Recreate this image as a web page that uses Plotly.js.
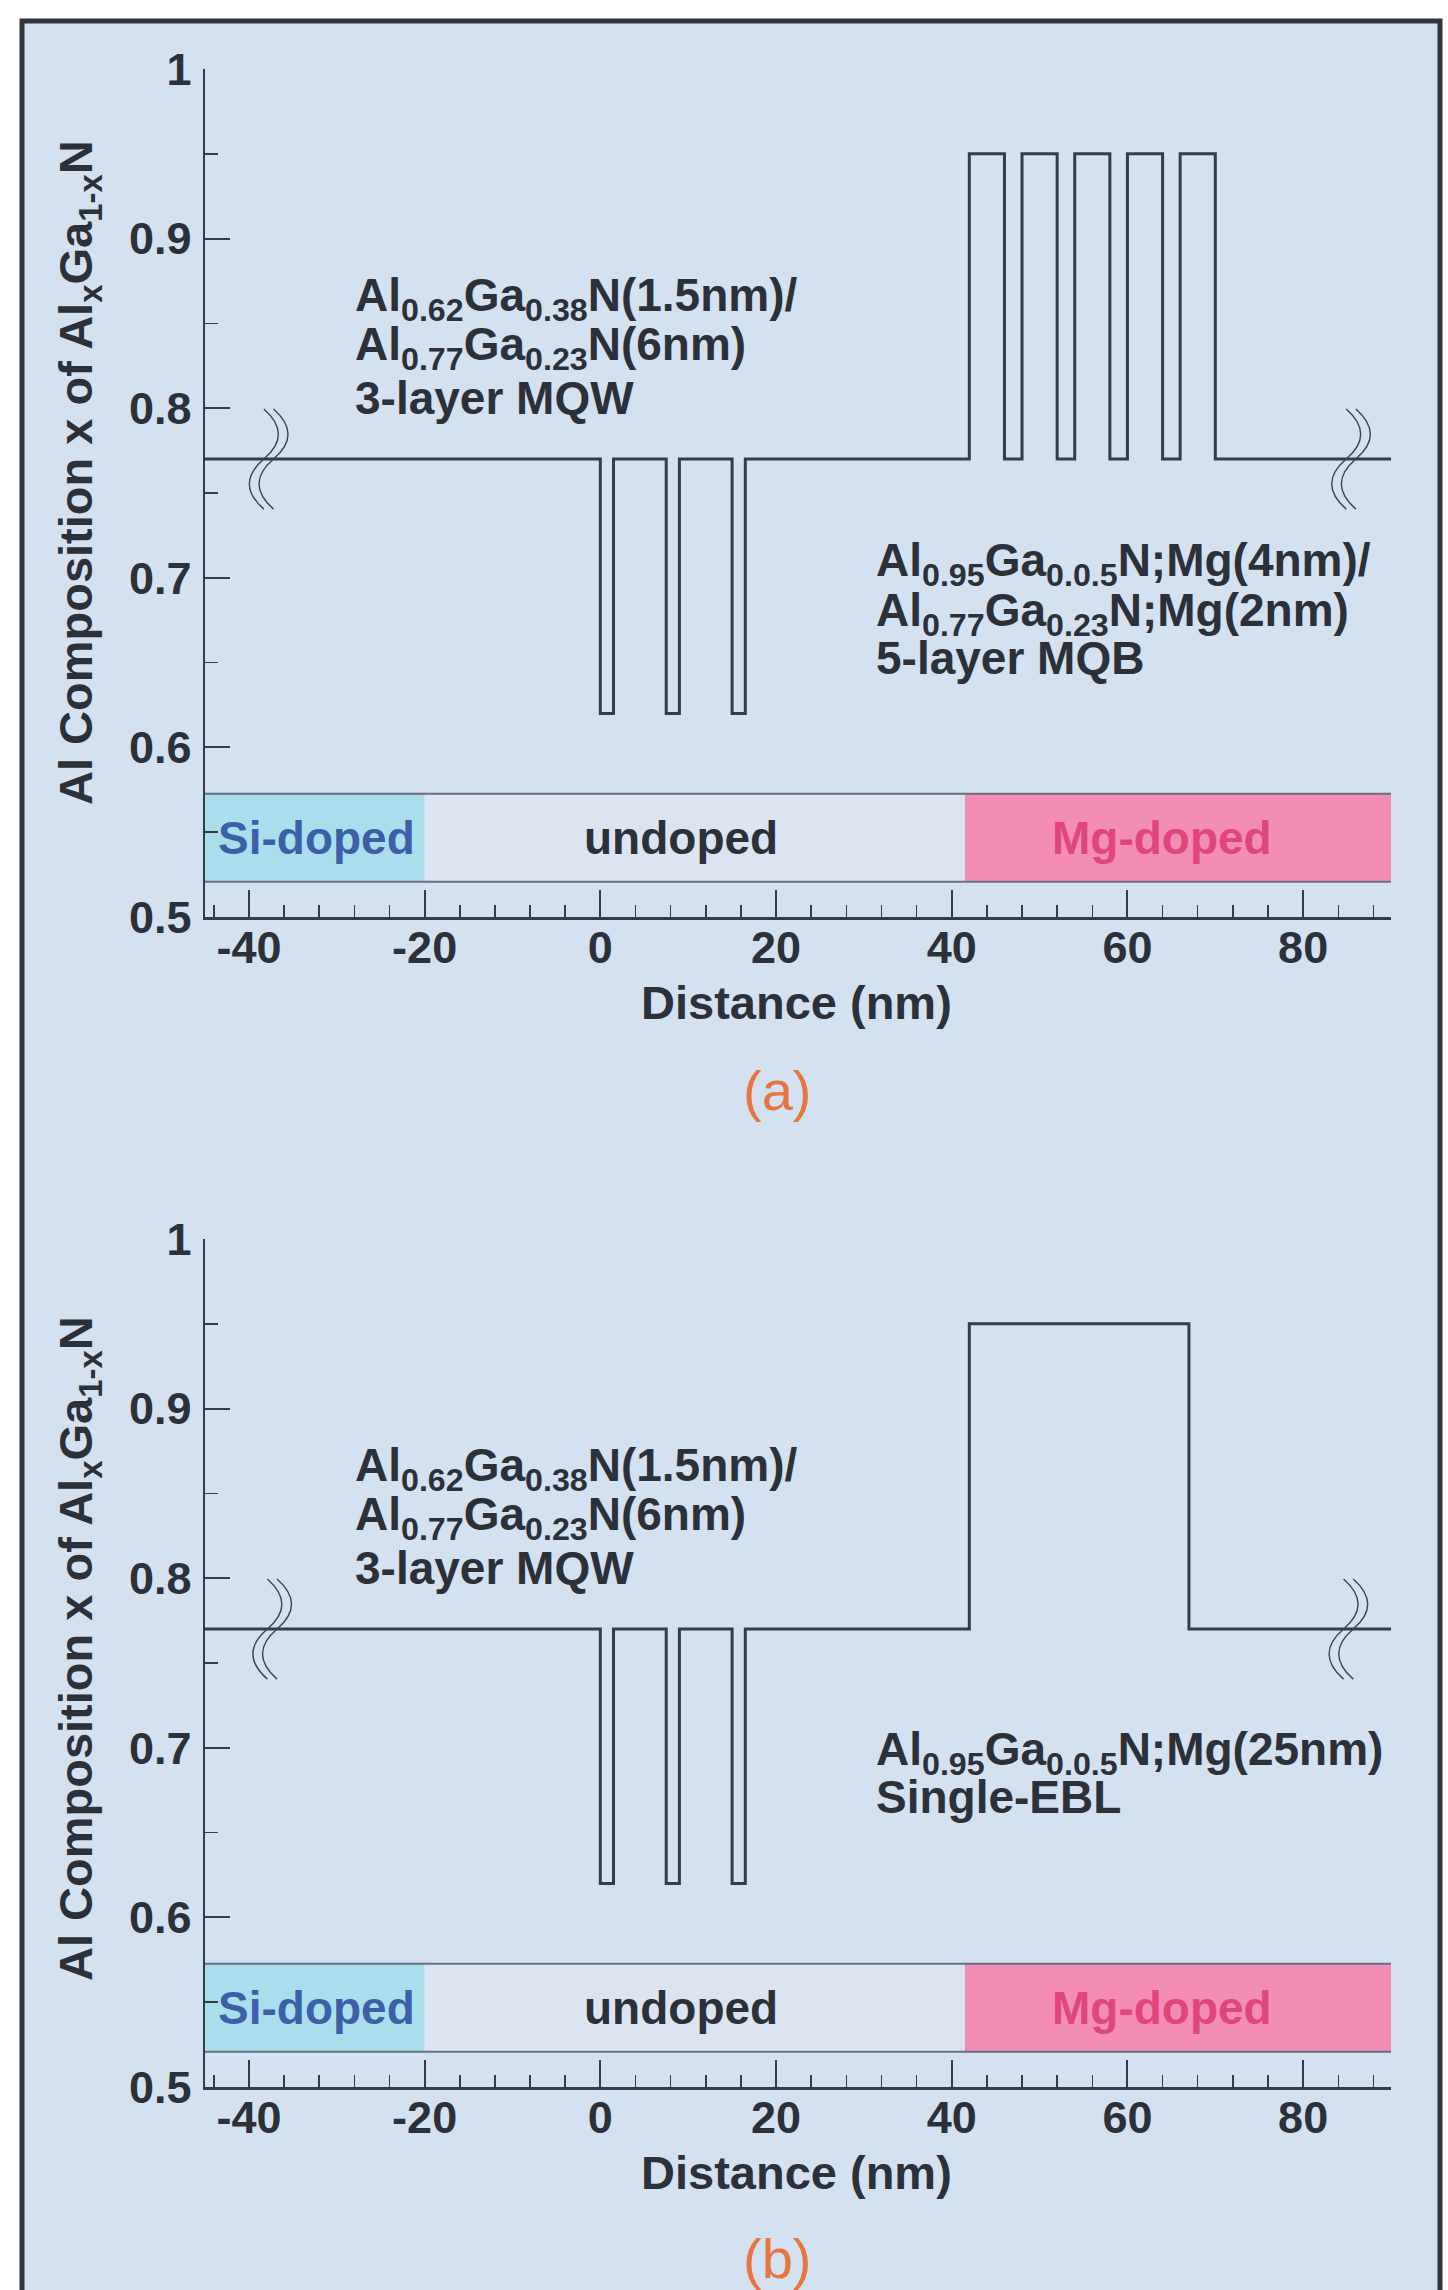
<!DOCTYPE html>
<html>
<head>
<meta charset="utf-8">
<script src="https://cdn.plot.ly/plotly-3.0.1.min.js"></script>
<style>
html,body{margin:0;padding:0;background:#ffffff;}
#chart{width:1448px;height:2290px;}
</style>
</head>
<body>
<div id="chart"></div>
<script>
// ---------------- data ----------------
// Panel (a): 3-layer MQW + 5-layer MQB  (layer start positions, nm, and Al composition)
const layerEdgesA = [-45, 0, 1.5, 7.5, 9, 15, 16.5, 42, 46, 48, 52, 54, 58, 60, 64, 66, 70, 90];
const compA       = [0.77, 0.62, 0.77, 0.62, 0.77, 0.62, 0.77, 0.95, 0.77, 0.95, 0.77, 0.95, 0.77, 0.95, 0.77, 0.95, 0.77, 0.77];
// Panel (b): 3-layer MQW + single EBL
const layerEdgesB = [-45, 0, 1.5, 7.5, 9, 15, 16.5, 42, 67, 90];
const compB       = [0.77, 0.62, 0.77, 0.62, 0.77, 0.62, 0.77, 0.95, 0.77, 0.77];

// doping regions (nm)
const regionStart = [-45, -20, 41.5];
const regionEnd   = [-20, 41.5, 90];
const regionNames = ['Si-doped', 'undoped', 'Mg-doped'];

// axis ticks
const xTickVals = [-40, -20, 0, 20, 40, 60, 80];
const xTickText = ['-40', '-20', '0', '20', '40', '60', '80'];
const yTickVals = [0.5, 0.6, 0.7, 0.8, 0.9, 1];
const yTickText = ['0.5', '0.6', '0.7', '0.8', '0.9', '1'];

// axis break marks (nm)
const breakXA = [-38.3, 84.9];
const breakXB = [-37.9, 84.6];

// texts
const mqwLines = ['Al<sub>0.62</sub>Ga<sub>0.38</sub>N(1.5nm)/', 'Al<sub>0.77</sub>Ga<sub>0.23</sub>N(6nm)', '3-layer MQW'];
const mqbLines = ['Al<sub>0.95</sub>Ga<sub>0.0.5</sub>N;Mg(4nm)/', 'Al<sub>0.77</sub>Ga<sub>0.23</sub>N;Mg(2nm)', '5-layer MQB'];
const eblLines = ['Al<sub>0.95</sub>Ga<sub>0.0.5</sub>N;Mg(25nm)', 'Single-EBL'];
const xTitle = 'Distance (nm)';
const yTitle = 'Al Composition x of Al<sub>x</sub>Ga<sub>1-x</sub>N';
const panelLabels = ['(a)', '(b)'];

// ---------------- style ----------------
const FONT = 'Liberation Sans, Arial, Helvetica, sans-serif';
const DARK = '#2c3139';
const LINE = '#343c48';
const regionColors = ['#a9dfec', '#dce4f2', '#f48db6'];
const regionTextColors = ['#3d5fa8', '#2c3139', '#e0457e'];
const BAR_Y0 = 0.5208, BAR_Y1 = 0.5727;

const W = 1448, H = 2290;
const xDom = [205 / W, 1391 / W];
const yDomA = [1 - 917 / H, 1 - 69 / H];
const yDomB = [1 - 2087 / H, 1 - 1239 / H];

function xAxis(anchor) {
  return {
    domain: xDom, anchor: anchor, range: [-45, 90], fixedrange: true,
    showgrid: false, zeroline: false, showline: true, linecolor: LINE, linewidth: 2.5,
    ticks: 'inside', ticklen: 27, tickwidth: 2, tickcolor: LINE,
    tickvals: xTickVals, ticktext: xTickText,
    tickfont: {family: FONT, size: 45, color: DARK, weight: 'bold'},
    ticklabelstandoff: -11,
    minor: {tick0: 0, dtick: 4, ticks: 'inside', ticklen: 12, tickwidth: 1.5, tickcolor: LINE, showgrid: false}
  };
}
function yAxis(anchor, dom) {
  return {
    domain: dom, anchor: anchor, range: [0.5, 1], fixedrange: true,
    showgrid: false, zeroline: false, showline: true, linecolor: LINE, linewidth: 2.5,
    ticks: 'inside', ticklen: 25, tickwidth: 2, tickcolor: LINE,
    tickvals: yTickVals, ticktext: yTickText,
    tickfont: {family: FONT, size: 45, color: DARK, weight: 'bold'},
    ticklabelstandoff: 2,
    minor: {tick0: 0.5, dtick: 0.05, ticks: 'inside', ticklen: 13, tickwidth: 1.5, tickcolor: LINE, showgrid: false}
  };
}

const traces = [
  {x: layerEdgesA, y: compA, xaxis: 'x', yaxis: 'y', type: 'scatter', mode: 'lines',
   line: {shape: 'hv', color: LINE, width: 3}, hoverinfo: 'skip', showlegend: false},
  {x: layerEdgesB, y: compB, xaxis: 'x2', yaxis: 'y2', type: 'scatter', mode: 'lines',
   line: {shape: 'hv', color: LINE, width: 3}, hoverinfo: 'skip', showlegend: false}
];

const shapes = [];
// background frame
shapes.push({type: 'rect', xref: 'paper', yref: 'paper', x0: 22 / W, x1: 1440 / W, y0: -0.02, y1: 1 - 21 / H,
  fillcolor: '#d4e1f1', line: {color: '#30353d', width: 5}, layer: 'below'});

function breakPath(xc, y0, h, k) {
  return `M ${xc},${y0 + h} C ${xc + k},${y0 + h * 0.66} ${xc + k},${y0 + h * 0.33} ${xc},${y0} ` +
         `C ${xc - k},${y0 - h * 0.33} ${xc - k},${y0 - h * 0.66} ${xc},${y0 - h}`;
}

[['x', 'y', breakXA], ['x2', 'y2', breakXB]].forEach(([xr, yr, brk]) => {
  for (let i = 0; i < regionNames.length; i++) {
    shapes.push({type: 'rect', xref: xr, yref: yr, x0: regionStart[i], x1: regionEnd[i], y0: BAR_Y0, y1: BAR_Y1,
      fillcolor: regionColors[i], line: {width: 0}, layer: 'below'});
  }
  [BAR_Y0, BAR_Y1].forEach(yv => shapes.push({type: 'line', xref: xr, yref: yr,
    x0: regionStart[0], x1: regionEnd[regionEnd.length - 1], y0: yv, y1: yv,
    line: {color: '#68707e', width: 2}, layer: 'below'}));
  brk.forEach(bx => {
    [0, 1.1].forEach(off => shapes.push({type: 'path', xref: xr, yref: yr,
      path: breakPath(bx + off, 0.77, 0.0295, 2.2), line: {color: '#3a4250', width: 1.4}, layer: 'above'}));
  });
});

const annotations = [];
function addText(xr, yr, x, y, text, opts) {
  annotations.push(Object.assign({xref: xr, yref: yr, x: x, y: y, text: text, showarrow: false,
    xanchor: 'left', yanchor: 'middle',
    font: {family: FONT, size: 46, color: DARK, weight: 'bold'}}, opts || {}));
}
const mqwY = [0.8644, 0.8355, 0.806];
const mqbY = [0.7087, 0.6792, 0.6527];
const eblY = [0.6975, 0.671];
const regionTextX = [-43.8, 9.2, 63.9];
const regionAnchor = ['left', 'center', 'center'];
// paper-pixel positions of titles below each panel (x title centre, panel label centre)
const xTitleY = [1002, 2172];
const panelLabelY = [1090, 2258];
const yTitleY = [473, 1649];

[['x', 'y'], ['x2', 'y2']].forEach(([xr, yr], p) => {
  mqwLines.forEach((t, i) => addText(xr, yr, -28.2, mqwY[i], t));
  if (p === 0) mqbLines.forEach((t, i) => addText(xr, yr, 31.1, mqbY[i], t));
  else eblLines.forEach((t, i) => addText(xr, yr, 31.1, eblY[i], t));
  regionNames.forEach((t, i) => addText(xr, yr, regionTextX[i], (BAR_Y0 + BAR_Y1) / 2, t,
    {xanchor: regionAnchor[i], font: {family: FONT, size: 46, color: regionTextColors[i], weight: 'bold'}}));
  addText('paper', 'paper', 796 / W, 1 - xTitleY[p] / H, xTitle,
    {xanchor: 'center', font: {family: FONT, size: 47, color: DARK, weight: 'bold'}});
  addText('paper', 'paper', 777 / W, 1 - panelLabelY[p] / H, panelLabels[p],
    {xanchor: 'center', font: {family: FONT, size: 56, color: '#e8743f'}});
  addText('paper', 'paper', 79 / W, 1 - yTitleY[p] / H, yTitle,
    {xanchor: 'center', textangle: -90, font: {family: FONT, size: 47, color: DARK, weight: 'bold'}});
});

const layout = {
  width: W, height: H, margin: {l: 0, r: 0, t: 0, b: 0, pad: 0},
  paper_bgcolor: '#ffffff', plot_bgcolor: 'rgba(0,0,0,0)',
  showlegend: false,
  xaxis: xAxis('y'), yaxis: yAxis('x', yDomA),
  xaxis2: xAxis('y2'), yaxis2: yAxis('x2', yDomB),
  shapes: shapes, annotations: annotations
};

Plotly.newPlot('chart', traces, layout, {staticPlot: true, displayModeBar: false});
</script>
</body>
</html>
